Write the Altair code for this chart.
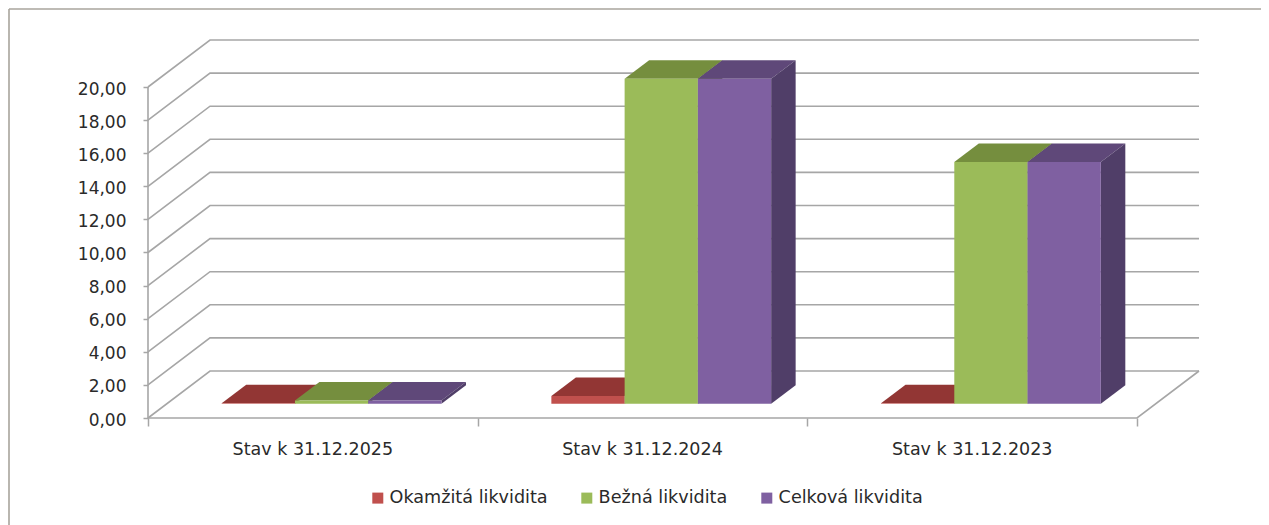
import altair as alt
import pandas as pd

categories = ["Stav k 31.12.2025", "Stav k 31.12.2024", "Stav k 31.12.2023"]
series = ["Okamžitá likvidita", "Bežná likvidita", "Celková likvidita"]
okamzita = [0.03, 0.47, 0.03]
bezna = [0.2, 19.64, 14.6]
celkova = [0.2, 19.64, 14.6]
ticks = [0, 2, 4, 6, 8, 10, 12, 14, 16, 18, 20]

front = ["#C0504D", "#9BBB59", "#7F60A1"]
top_c = ["#923634", "#758E3E", "#5F4879"]
side_c = ["#6E2A28", "#5A6E30", "#503E68"]
GRID = "#A6A6A6"
TEXT = "#2A2A2A"
FONT = "DejaVu Sans"
FS = 17
FS_CAT = 17.5
FS_LEG = 17.6

# plot-area geometry, expressed through scale units
W, H = 1052, 378
px_x = 329.67      # pixels per category
px_y = 16.55       # pixels per value unit
wall_dx, wall_dy = 62 / px_x, 47 / px_y
bar_dx, bar_dy = 24.5 / px_x, 18.5 / px_y
shift_x, shift_y = (wall_dx - bar_dx) / 2, (wall_dy - bar_dy) / 2
gap, bw = 1 / 6, 2 / 9

xs = alt.Scale(domain=[0, W / px_x], nice=False, zero=False)
ys = alt.Scale(domain=[0, H / px_y], nice=False, zero=False)
xaxis = alt.Axis(values=[0, 1, 2, 3], labels=False, domain=False, grid=False, title=None,
                 tickColor=GRID, tickWidth=1.5, tickSize=8)
yaxis = alt.Axis(values=ticks, format=".2f", labelExpr="replace(datum.label, '.', ',')",
                 domain=False, grid=False, title=None, tickColor=GRID, tickWidth=1.5, tickSize=5,
                 labelFont=FONT, labelFontSize=FS, labelColor=TEXT, labelPadding=17, labelOffset=2)

fronts, tops, sides = [], [], []
for s, (name, vals) in enumerate(zip(series, [okamzita, bezna, celkova])):
    for c, v in enumerate(vals):
        x0 = c + gap + shift_x + s * bw
        x1 = x0 + bw
        y0 = shift_y
        y1 = y0 + v
        fronts.append(dict(s=name, o=s, x=x0, x2=x1, y=y0, y2=y1))
        g = f"{s}-{c}"
        tops += [dict(g=g, o=s, yy=y1, xa=x0, xb=x1),
                 dict(g=g, o=s, yy=y1 + bar_dy, xa=x0 + bar_dx, xb=x1 + bar_dx)]
        sides += [dict(g=g, o=s, xx=x1, ya=y0, yb=y1),
                  dict(g=g, o=s, xx=x1 + bar_dx, ya=y0 + bar_dy, yb=y1 + bar_dy)]
fronts, tops, sides = map(pd.DataFrame, (fronts, tops, sides))

# back wall and floor lines
lines = []
for v in ticks:
    lines += [dict(g=v, k=0, x=0, y=v),
              dict(g=v, k=1, x=wall_dx, y=v + wall_dy),
              dict(g=v, k=2, x=3 + wall_dx, y=v + wall_dy)]
lines += [dict(g=-1, k=0, x=3 + wall_dx, y=wall_dy),
          dict(g=-1, k=1, x=3, y=0),
          dict(g=-1, k=2, x=0, y=0),
          dict(g=-2, k=0, x=0, y=0),
          dict(g=-2, k=1, x=0, y=20)]
lines = pd.DataFrame(lines)

grid = alt.Chart(lines).mark_line(color=GRID, strokeWidth=1.6, clip=False).encode(
    x=alt.X("x:Q", scale=xs, axis=xaxis),
    y=alt.Y("y:Q", scale=ys, axis=yaxis),
    detail="g:N", order="k:Q")

layers = [grid]
for s in range(3):
    t = alt.Chart(tops[tops.o == s]).mark_area(orient="horizontal", color=top_c[s]).encode(
        y=alt.Y("yy:Q", scale=ys, axis=yaxis),
        x=alt.X("xa:Q", scale=xs, axis=xaxis), x2="xb:Q", detail="g:N")
    d = alt.Chart(sides[sides.o == s]).mark_area(orient="vertical", color=side_c[s]).encode(
        x=alt.X("xx:Q", scale=xs, axis=xaxis),
        y=alt.Y("ya:Q", scale=ys, axis=yaxis), y2="yb:Q", detail="g:N")
    f = alt.Chart(fronts[fronts.o == s]).mark_rect().encode(
        x=alt.X("x:Q", scale=xs, axis=xaxis), x2="x2:Q",
        y=alt.Y("y:Q", scale=ys, axis=yaxis), y2="y2:Q",
        color=alt.Color("s:N", scale=alt.Scale(domain=series, range=front), legend=alt.Legend(
            orient="none", legendX=221, legendY=449, direction="horizontal", title=None,
            symbolType="square", symbolSize=121, symbolStrokeWidth=0, labelOffset=3,
            labelFont=FONT, labelFontSize=FS_LEG, labelColor=TEXT, columnPadding=30)))
    layers += [t, d, f]

labels = alt.Chart(pd.DataFrame({"c": categories, "x": [0.5, 1.5, 2.5], "y": [0, 0, 0]})).mark_text(
    font=FONT, fontSize=FS_CAT, color=TEXT, dy=32, clip=False).encode(
    x=alt.X("x:Q", scale=xs, axis=xaxis), y=alt.Y("y:Q", scale=ys, axis=yaxis), text="c:N")
layers.append(labels)

FRAME = "#A8A49C"
frame_top = alt.Chart(pd.DataFrame({"a": [0]})).mark_rule(color=FRAME, strokeWidth=1.6).encode(
    x=alt.value(-139), x2=alt.value(1125), y=alt.value(-31))
frame_left = alt.Chart(pd.DataFrame({"a": [0]})).mark_rule(color=FRAME, strokeWidth=1.6).encode(
    x=alt.value(-139), y=alt.value(-31), y2=alt.value(490))
layers += [frame_top, frame_left]

chart = alt.layer(*layers).properties(
    width=W, height=H, autosize="none",
    padding={"left": 140, "top": 32, "right": 61, "bottom": 107},
    background="white",
).configure_view(stroke=None)

chart.save("out.html", embed_options={"renderer": "svg", "actions": False})
